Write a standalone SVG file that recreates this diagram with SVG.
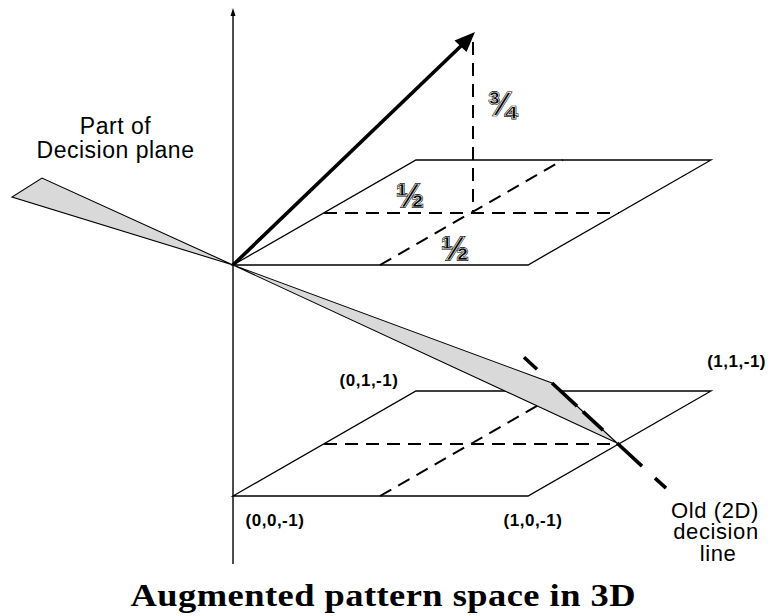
<svg xmlns="http://www.w3.org/2000/svg" width="768" height="616" viewBox="0 0 768 616">
<style>
.solid{stroke:#000;stroke-width:1.3;fill:none}
.axis{stroke:#000;stroke-width:1.4;fill:none}
.dash{stroke:#000;stroke-width:2;stroke-dasharray:13 8;fill:none}
.wedge{fill:#d9d9d9;stroke:#000;stroke-width:1.1;stroke-linejoin:miter}
.lbl{font-family:"Liberation Sans",Arial,sans-serif;font-size:23px;letter-spacing:0.5px;text-anchor:middle;fill:#000}
.lbl2{font-family:"Liberation Sans",Arial,sans-serif;font-size:22px;letter-spacing:0.6px;text-anchor:middle;fill:#000}
.coord{font-family:"Liberation Sans",Arial,sans-serif;font-weight:bold;font-size:17px;letter-spacing:0.5px;text-anchor:middle;fill:#000}
.frac{font-family:"Liberation Sans",Arial,sans-serif;font-weight:bold;font-size:33px;text-anchor:middle;fill:#000;stroke:#000;stroke-width:1.8}
.fracin{font-family:"Liberation Sans",Arial,sans-serif;font-weight:bold;font-size:33px;text-anchor:middle;fill:none;stroke:#fff;stroke-width:0.7}
.title{font-family:"Liberation Serif","Times New Roman",serif;font-weight:bold;font-size:32px;text-anchor:middle;fill:#000}
</style>

<g id="upper-plane">
  <polygon class="solid" points="233,265 528,265 711,160 416,160"/>
  <line class="dash" x1="324" y1="213" x2="619" y2="213"/>
  <line class="dash" x1="380" y1="265" x2="563" y2="160"/>
  <line class="dash" x1="473" y1="42" x2="473" y2="213"/>
</g>

<g id="lower-plane">
  <polygon class="solid" points="233,496 528,496 711,391 416,391"/>
  <line class="dash" x1="324" y1="444" x2="619" y2="444"/>
  <line class="dash" x1="380" y1="496" x2="563" y2="391"/>
</g>

<g id="decision-plane">
  <polygon class="wedge" points="233,265 12,197 42,178"/>
  <polygon class="wedge" points="233,265 552,383 617,443"/>
</g>

<g id="connectors">
  <line class="axis" x1="233" y1="14" x2="233" y2="564"/>
  <polygon points="233,8 230.5,16 235.5,16" fill="#000"/>
  <line x1="233" y1="265" x2="462" y2="45" stroke="#000" stroke-width="3.6"/>
  <polygon points="475,32 466.5,52 454.5,40.5" fill="#000"/>
  <path id="old-decision-line" d="M524,357.2 L537,369.2 M552,383 L577,406.1 M583,411.6 L603,430.1 M617,443 L642,466.1 M655,478.1 L666,488.2" stroke="#000" stroke-width="3.6" fill="none"/>
</g>

<g id="fractions">
  <text class="frac" x="501.5" y="115">¾</text>
  <text class="fracin" x="501.5" y="115">¾</text>
  <text class="frac" x="410" y="207">½</text>
  <text class="fracin" x="410" y="207">½</text>
  <text class="frac" x="455" y="260">½</text>
  <text class="fracin" x="455" y="260">½</text>
</g>

<g id="label-decision-plane">
  <text class="lbl" x="115.5" y="134">Part of</text>
  <text class="lbl" x="115.5" y="158">Decision plane</text>
</g>

<g id="label-old-line">
  <text class="lbl2" x="715" y="518">Old (2D)</text>
  <text class="lbl2" x="716" y="539">decision</text>
  <text class="lbl2" x="718" y="561">line</text>
</g>

<g id="coords">
  <text class="coord" x="369" y="386">(0,1,-1)</text>
  <text class="coord" x="766" y="367" style="text-anchor:end">(1,1,-1)</text>
  <text class="coord" x="275" y="526">(0,0,-1)</text>
  <text class="coord" x="533" y="526">(1,0,-1)</text>
</g>

<g transform="translate(383,606) scale(1.14,1)">
  <text class="title" x="0" y="0" textLength="443" lengthAdjust="spacing">Augmented pattern space in 3D</text>
</g>
</svg>
